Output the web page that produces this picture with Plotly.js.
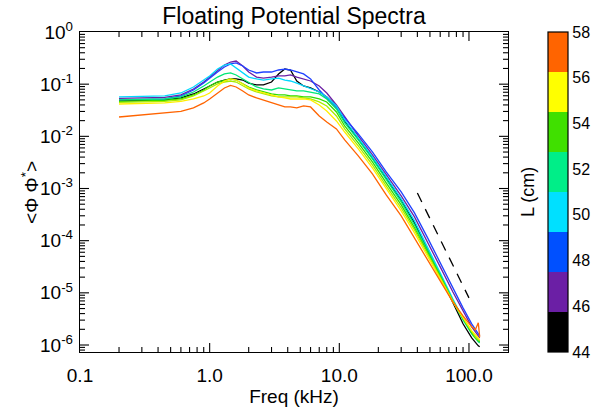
<!DOCTYPE html>
<html><head><meta charset="utf-8">
<script src="https://cdn.plot.ly/plotly-3.0.1.min.js"></script>
<style>html,body{margin:0;padding:0;background:#fff}#chart{width:591px;height:410px}</style>
</head><body><div id="chart"></div>
<script>
// Frequency grid (kHz)
const freq = [0.2, 0.3, 0.45, 0.6, 0.75, 0.9, 1.0, 1.15, 1.3, 1.45, 1.6, 1.8, 2.0, 2.3, 2.6, 3.0, 3.4, 3.8, 4.2, 4.7, 5.3, 6.0, 7.0, 8.0, 9.5, 11, 14, 18, 23, 30, 38, 48, 60, 75, 90, 105, 112, 118, 121];

// Spectra <Phi Phi*> for each probe position L (cm)
const specL44 = [0.0476, 0.0487, 0.0498, 0.0544, 0.0649, 0.0809, 0.0923, 0.110, 0.120, 0.126, 0.126, 0.120, 0.105, 0.0966, 0.0966, 0.110, 0.157, 0.195, 0.187, 0.115, 0.0923, 0.0845, 0.0708, 0.0569, 0.0382, 0.0197, 0.00892, 0.00386, 0.00160, 6.05e-4, 2.19e-4, 6.67e-5, 2.12e-5, 6.43e-6, 2.55e-6, 1.37e-6, 1.10e-6, 9.65e-7, 9.24e-7];
const specL46 = [0.0532, 0.0544, 0.0556, 0.0621, 0.0809, 0.110, 0.137, 0.187, 0.233, 0.266, 0.278, 0.223, 0.171, 0.137, 0.131, 0.137, 0.144, 0.144, 0.150, 0.137, 0.126, 0.115, 0.0923, 0.0678, 0.0399, 0.0235, 0.0102, 0.00440, 0.00182, 7.22e-4, 2.86e-4, 9.48e-5, 3.15e-5, 1.05e-5, 4.52e-6, 2.23e-6, 1.79e-6, 1.50e-6, 1.37e-6];
const specL48 = [0.0498, 0.0509, 0.0520, 0.0594, 0.0774, 0.105, 0.131, 0.171, 0.213, 0.244, 0.255, 0.223, 0.187, 0.164, 0.171, 0.171, 0.187, 0.195, 0.187, 0.171, 0.157, 0.126, 0.0774, 0.0544, 0.0350, 0.0225, 0.0111, 0.00502, 0.00208, 8.61e-4, 3.41e-4, 1.13e-4, 3.76e-5, 1.19e-5, 5.16e-6, 2.55e-6, 1.96e-6, 1.64e-6, 1.50e-6];
const specL50 = [0.0569, 0.0581, 0.0594, 0.0678, 0.0883, 0.120, 0.144, 0.195, 0.233, 0.244, 0.204, 0.164, 0.137, 0.126, 0.120, 0.126, 0.131, 0.120, 0.115, 0.105, 0.0923, 0.0809, 0.0708, 0.0569, 0.0382, 0.0206, 0.00932, 0.00403, 0.00167, 6.32e-4, 2.40e-4, 7.61e-5, 2.42e-5, 7.68e-6, 3.18e-6, 1.71e-6, 1.37e-6, 1.20e-6, 1.15e-6];
const specL52 = [0.0498, 0.0509, 0.0520, 0.0569, 0.0708, 0.0923, 0.110, 0.137, 0.157, 0.164, 0.150, 0.126, 0.105, 0.0883, 0.0809, 0.0774, 0.0845, 0.0809, 0.0774, 0.0741, 0.0741, 0.0708, 0.0649, 0.0520, 0.0335, 0.0181, 0.00853, 0.00369, 0.00146, 5.54e-4, 2.01e-4, 6.67e-5, 2.21e-5, 7.03e-6, 3.04e-6, 1.64e-6, 1.31e-6, 1.15e-6, 1.10e-6];
const specL53 = [0.0466, 0.0476, 0.0487, 0.0520, 0.0621, 0.0774, 0.0923, 0.110, 0.120, 0.126, 0.120, 0.101, 0.0883, 0.0774, 0.0708, 0.0649, 0.0621, 0.0621, 0.0594, 0.0594, 0.0569, 0.0569, 0.0520, 0.0456, 0.0293, 0.0158, 0.00748, 0.00323, 0.00128, 4.85e-4, 1.76e-4, 6.10e-5, 2.12e-5, 7.03e-6, 3.18e-6, 1.71e-6, 1.37e-6, 1.20e-6, 1.15e-6];
const specL54 = [0.0446, 0.0456, 0.0466, 0.0498, 0.0594, 0.0741, 0.0845, 0.101, 0.110, 0.115, 0.110, 0.0923, 0.0809, 0.0708, 0.0649, 0.0594, 0.0569, 0.0569, 0.0569, 0.0569, 0.0544, 0.0520, 0.0456, 0.0382, 0.0246, 0.0139, 0.00655, 0.00283, 0.00112, 4.25e-4, 1.61e-4, 5.59e-5, 1.94e-5, 7.03e-6, 3.32e-6, 1.79e-6, 1.44e-6, 1.26e-6, 1.20e-6];
const specL56 = [0.0417, 0.0427, 0.0437, 0.0466, 0.0520, 0.0594, 0.0678, 0.0923, 0.115, 0.126, 0.120, 0.101, 0.0845, 0.0741, 0.0678, 0.0621, 0.0569, 0.0544, 0.0520, 0.0520, 0.0520, 0.0498, 0.0399, 0.0306, 0.0197, 0.0121, 0.00574, 0.00248, 9.82e-4, 3.72e-4, 1.41e-4, 5.11e-5, 1.85e-5, 6.72e-6, 3.32e-6, 1.87e-6, 1.57e-6, 1.37e-6, 1.26e-6];
const specL58 = [0.0235, 0.0257, 0.0281, 0.0300, 0.0350, 0.0437, 0.0520, 0.0678, 0.0845, 0.0944, 0.0883, 0.0741, 0.0621, 0.0544, 0.0498, 0.0437, 0.0399, 0.0366, 0.0366, 0.0350, 0.0382, 0.0366, 0.0246, 0.0189, 0.0139, 0.00853, 0.00421, 0.00190, 7.54e-4, 2.99e-4, 1.13e-4, 4.48e-5, 1.77e-5, 6.72e-6, 3.63e-6, 2.23e-6, 1.96e-6, 2.66e-6, 1.44e-6];

const seriesNames = ['L = 44', 'L = 46', 'L = 48', 'L = 50', 'L = 52', 'L = 53', 'L = 54', 'L = 56', 'L = 58'];
const seriesColors = ['#000000', '#6b1fa5', '#1f40ff', '#00d8ff', '#00e878', '#30dc00', '#a8ec00', '#ffee00', '#ff6400'];

// Reference slope line (f^-5)
const refX = [40, 100];
const refY = [8.2e-4, 8.0e-6];

// Axis tick labels
const xTickVals = [0.1, 1, 10, 100];
const xTickText = ['0.1', '1.0', '10.0', '100.0'];
const yTickVals = [1e-6, 1e-5, 1e-4, 1e-3, 1e-2, 1e-1, 1];
const yTickText = ['10<sup>-6</sup>', '10<sup>-5</sup>', '10<sup>-4</sup>', '10<sup>-3</sup>', '10<sup>-2</sup>', '10<sup>-1</sup>', '10<sup>0</sup>'];

// Colour bar
const cbTicks = [44, 46, 48, 50, 52, 54, 56, 58];
const bandColors = ['#000000', '#6b1fa5', '#0050ff', '#00e0ff', '#00ee88', '#40e000', '#ffff00', '#ff6400'];

const allSeries = [specL44, specL46, specL48, specL50, specL52, specL53, specL54, specL56, specL58];
const traces = allSeries.map((ys, i) => ({
  x: freq, y: ys, type: 'scatter', mode: 'lines', name: seriesNames[i],
  line: {color: seriesColors[i], width: 1.3}, showlegend: false
}));

traces.push({
  x: refX, y: refY, type: 'scatter', mode: 'lines',
  line: {color: '#000', width: 1.3, dash: '10px,8px'}, showlegend: false, hoverinfo: 'skip'
});

const n = bandColors.length;
const colorscale = [];
bandColors.forEach((c, i) => { colorscale.push([i / n, c]); colorscale.push([(i + 1) / n, c]); });

// invisible point that carries the colour bar
traces.push({
  x: [freq[0]], y: [specL44[0]], type: 'scatter', mode: 'markers', showlegend: false, hoverinfo: 'skip',
  marker: {
    size: 1, opacity: 0, color: [cbTicks[0]], cmin: cbTicks[0], cmax: cbTicks[cbTicks.length - 1],
    colorscale: colorscale, showscale: true,
    colorbar: {
      thickness: 20, thicknessmode: 'pixels', len: 1, lenmode: 'fraction',
      x: 1.0935, xanchor: 'left', y: 0.5, yanchor: 'middle', xpad: 0, ypad: 0,
      outlinewidth: 1.2, outlinecolor: '#000', borderwidth: 0,
      tickmode: 'array', tickvals: cbTicks, ticks: '',
      tickfont: {size: 16, color: '#000'}
    }
  }
});

const xRange = [-1, Math.log10(200)];
const yRange = [-6.134, 0];

// Axis tick marks (major + 2..9 minor per decade), drawn inside on all four sides
const PLOT_W = 591 - 80 - 83, PLOT_H = 410 - 32 - 58;
const MAJOR_LEN = 9, MINOR_LEN = 5;
function inRange(v, r) { const l = Math.log10(v); return l > r[0] + 1e-6 && l < r[1] - 1e-6; }
function tickValues(lo, hi, r) {
  const major = [], minor = [];
  for (let e = lo; e <= hi; e++) {
    const m1 = Math.pow(10, e);
    if (inRange(m1, r)) major.push(m1);
    for (let m = 2; m <= 9; m++) { const v = m * m1; if (inRange(v, r)) minor.push(v); }
  }
  return {major, minor};
}
const tickShapes = [];
const tickLine = {color: '#000', width: 1.1};
const xt = tickValues(-1, 2, xRange);
[[xt.major, MAJOR_LEN], [xt.minor, MINOR_LEN]].forEach(([vals, len]) => {
  vals.forEach(v => {
    tickShapes.push({type: 'line', xref: 'x', yref: 'paper', x0: v, x1: v, y0: 0, y1: len / PLOT_H, line: tickLine});
    tickShapes.push({type: 'line', xref: 'x', yref: 'paper', x0: v, x1: v, y0: 1, y1: 1 - len / PLOT_H, line: tickLine});
  });
});
const yt = tickValues(-7, 0, yRange);
[[yt.major, MAJOR_LEN], [yt.minor, MINOR_LEN]].forEach(([vals, len]) => {
  vals.forEach(v => {
    tickShapes.push({type: 'line', xref: 'paper', yref: 'y', y0: v, y1: v, x0: 0, x1: len / PLOT_W, line: tickLine});
    tickShapes.push({type: 'line', xref: 'paper', yref: 'y', y0: v, y1: v, x0: 1, x1: 1 - len / PLOT_W, line: tickLine});
  });
});

const font = 'Liberation Sans, Arial, Helvetica, sans-serif';
const layout = {
  width: 591, height: 410,
  margin: {l: 80, r: 83, t: 32, b: 58, autoexpand: false},
  font: {family: font, color: '#000', size: 19},
  title: {text: 'Floating Potential Spectra', font: {size: 23, color: '#000'}, x: 0.5, xref: 'paper', y: 0.962, yref: 'container', yanchor: 'middle'},
  xaxis: {
    type: 'log', range: xRange, tickmode: 'array', tickvals: xTickVals, ticktext: xTickText,
    showgrid: false, zeroline: false, showline: true, linecolor: '#000', linewidth: 1.2, mirror: true,
    ticks: '', tickfont: {size: 19}, ticklabelstandoff: 6,
    title: {text: 'Freq (kHz)', font: {size: 19}, standoff: 4}
  },
  yaxis: {
    type: 'log', range: yRange, tickmode: 'array', tickvals: yTickVals, ticktext: yTickText,
    showgrid: false, zeroline: false, showline: true, linecolor: '#000', linewidth: 1.2, mirror: true,
    ticks: '', tickfont: {size: 19}, ticklabelstandoff: 2
  },
  shapes: tickShapes,
  annotations: [{
    text: '&lt;Φ Φ<sup>*</sup>&gt;', textangle: -90, x: -0.117, y: 0.5, xref: 'paper', yref: 'paper',
    xanchor: 'center', yanchor: 'middle', showarrow: false, font: {size: 19, color: '#000'}
  }, {
    text: 'L (cm)', textangle: -90, x: 1.047, y: 0.5, xref: 'paper', yref: 'paper',
    xanchor: 'center', yanchor: 'middle', showarrow: false, font: {size: 18, color: '#000'}
  }]
};

Plotly.newPlot('chart', traces, layout, {displayModeBar: false, staticPlot: true});
</script>
</body></html>
